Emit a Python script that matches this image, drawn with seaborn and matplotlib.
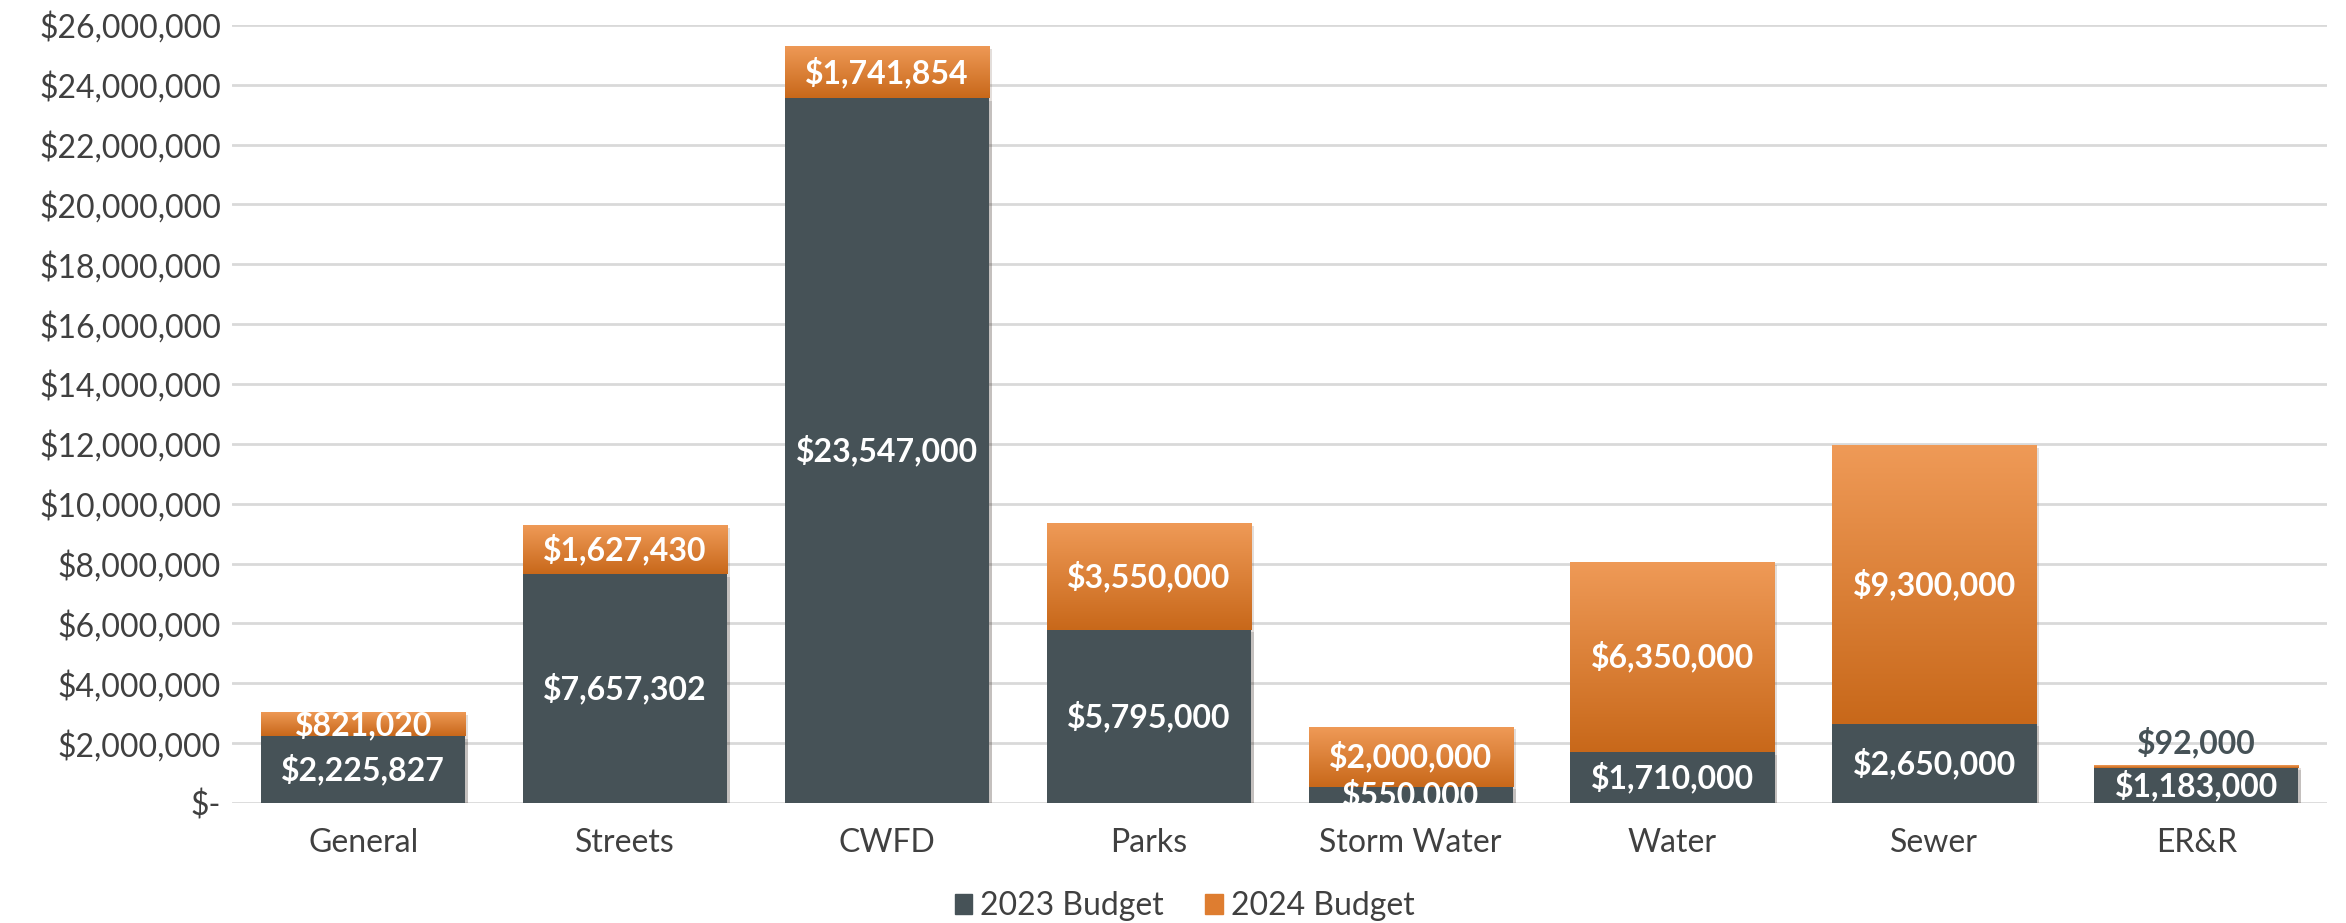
import numpy as np
import pandas as pd
import matplotlib
matplotlib.use("Agg")
import matplotlib.pyplot as plt
import matplotlib.patheffects as pe
from matplotlib.patches import Patch
from matplotlib.ticker import FuncFormatter, MultipleLocator
import seaborn as sns

categories = ["General", "Streets", "CWFD", "Parks", "Storm Water", "Water", "Sewer", "ER&R"]
budget_2023 = [2225827, 7657302, 23547000, 5795000, 550000, 1710000, 2650000, 1183000]
budget_2024 = [821020, 1627430, 1741854, 3550000, 2000000, 6350000, 9300000, 92000]

DARK = "#465257"
ORANGE = "#DE7D30"
ORANGE_TOP = "#EF9A57"
ORANGE_BOT = "#C8681A"
TEXT = "#404040"

df = pd.DataFrame({"cat": categories, "b23": budget_2023, "b24": budget_2024})
df["total"] = df["b23"] + df["b24"]

sns.set_style("white")
plt.rcParams["font.family"] = ["Lato", "DejaVu Sans"]

fig = plt.figure(figsize=(23.46, 9.23), dpi=100)
ax = fig.add_axes([0.099, 0.130, 0.893, 0.843])

shadow = [pe.SimplePatchShadow(offset=(2, -2), alpha=0.15), pe.Normal()]

# total (orange) first, 2023 drawn on top of it
sns.barplot(data=df, x="cat", y="total", color=ORANGE, width=0.78, saturation=1,
            linewidth=0, ax=ax, zorder=2)
n_first = len(ax.patches)
sns.barplot(data=df, x="cat", y="b23", color=DARK, width=0.78, saturation=1,
            linewidth=0, ax=ax, zorder=3)

orange_bars = ax.patches[:n_first]
dark_bars = ax.patches[n_first:]

# gradient fill for the 2024 segment
cmap = matplotlib.colors.LinearSegmentedColormap.from_list("og", [ORANGE_BOT, ORANGE_TOP])
grad = np.linspace(0, 1, 256).reshape(-1, 1)
for p, lo in zip(orange_bars, df["b23"]):
    p.set_path_effects(shadow)
    x0 = p.get_x()
    x1 = x0 + p.get_width()
    hi = p.get_height()
    im = ax.imshow(grad, cmap=cmap, origin="lower", aspect="auto",
                   extent=(x0, x1, lo, hi), zorder=2.5)
    im.set_clip_path(p)
for p in dark_bars:
    p.set_path_effects(shadow)

ax.set_xlim(-0.5, 7.5)
ax.set_ylim(0, 26000000)
ax.yaxis.set_major_locator(MultipleLocator(2000000))
ax.yaxis.set_major_formatter(FuncFormatter(lambda v, _: "$-" if v == 0 else f"${v:,.0f}"))
ax.grid(axis="y", color="#D9D9D9", linewidth=2, zorder=0)
ax.set_axisbelow(True)
for s in ax.spines.values():
    s.set_visible(False)
ax.tick_params(axis="both", length=0, labelsize=23, colors=TEXT)
ax.tick_params(axis="y", pad=8)
ax.tick_params(axis="x", pad=18)
ax.set_xlabel("")
ax.set_ylabel("")

# data labels
for i, row in df.iterrows():
    ax.text(i, row["b23"] / 2, f"${row['b23']:,.0f}", ha="center", va="center",
            color="white", fontsize=23, fontweight="bold", zorder=5)
    if row["b24"] < 500000:
        ax.annotate(f"${row['b24']:,.0f}", (i, row["total"]), xytext=(0, 5),
                    textcoords="offset points", ha="center", va="bottom",
                    color=DARK, fontsize=23, fontweight="bold", zorder=5)
    else:
        ax.text(i, row["b23"] + row["b24"] / 2, f"${row['b24']:,.0f}", ha="center",
                va="center", color="white", fontsize=23, fontweight="bold", zorder=5)

handles = [Patch(color=DARK, label="2023 Budget"), Patch(color=ORANGE, label="2024 Budget")]
fig.legend(handles=handles, loc="center", bbox_to_anchor=(0.505, 0.018), ncol=2,
           frameon=False, fontsize=23, handlelength=0.55, handleheight=0.55,
           handletextpad=0.25, columnspacing=1.3, labelcolor=TEXT)

fig.savefig("out.png", dpi=100)
